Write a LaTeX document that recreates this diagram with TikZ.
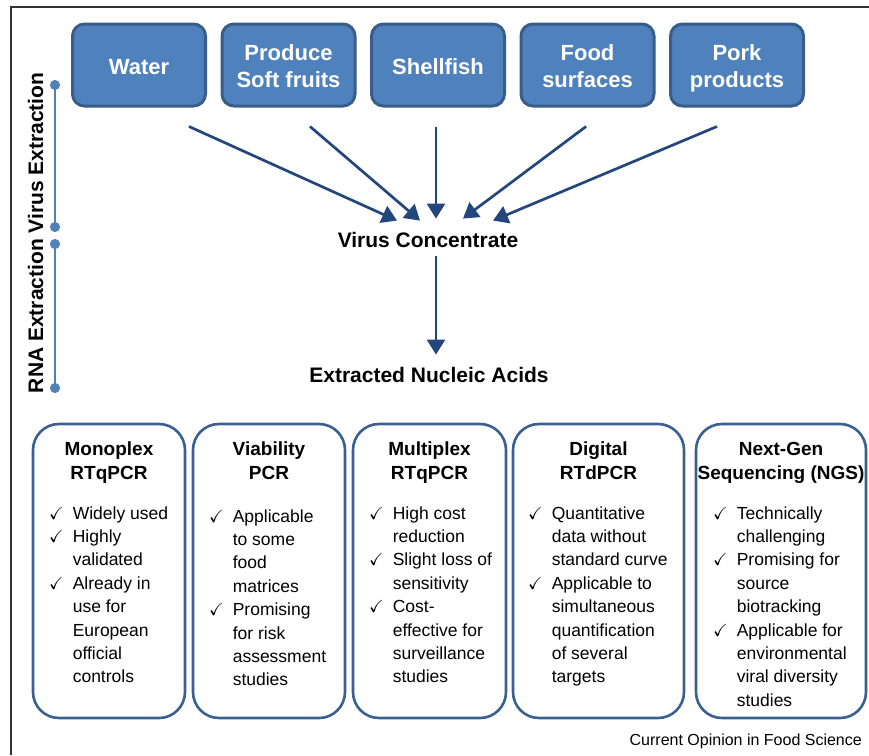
\documentclass[tikz,border=0pt]{standalone}
\usepackage{fontspec}
\usepackage{amssymb}
\setmainfont{Liberation Sans}
\usetikzlibrary{arrows.meta,positioning,calc}
\definecolor{srcblue}{RGB}{79,129,189}
\definecolor{srcedge}{RGB}{56,93,138}
\definecolor{flowblue}{RGB}{35,70,125}
\definecolor{methodedge}{RGB}{58,95,145}

\newcommand{\srctext}[1]{\rule{0pt}{23.5pt}#1\rule[-4.6pt]{0pt}{4.6pt}}
\tikzset{
  source/.style={draw=srcedge, line width=3pt, fill=srcblue, rounded corners=12pt,
    minimum width=133pt, minimum height=82pt, text=white, align=center,
    font=\fontsize{22}{27}\selectfont\bfseries},
  flow/.style={-{Triangle[length=15pt,width=18pt]}, line width=2.7pt, draw=flowblue},
  stagebar/.style={{Circle[length=10pt]}-{Circle[length=10pt]}, line width=2pt, draw=srcblue},
  stagelabel/.style={rotate=90, anchor=base, inner sep=0pt, font=\fontsize{21}{21}\selectfont\bfseries},
  stagetext/.style={anchor=base, inner sep=0pt, font=\fontsize{21}{21}\selectfont\bfseries},
  method/.style={draw=methodedge, line width=2.6pt, rounded corners=26pt,
    minimum height=294pt, outer sep=0pt},
  methodhead/.style={anchor=base, inner sep=0pt, font=\fontsize{19}{24}\selectfont\bfseries},
  methodbody/.style={anchor=base west, inner sep=0pt, font=\fontsize{17.5}{23.4}\selectfont}
}
\newcommand{\tick}{\checkmark}

\begin{document}
\begin{tikzpicture}[x=1pt, y=-1pt]
    \useasboundingbox (0,0) rectangle (869,755);

    % Frame
    \draw[line width=1.5pt, black!80] (11,755) -- (11,7) -- (869,7);

    % Sources
    \node[source] (water) at (139,65) {\srctext{Water}};
    \node[source] (produce) at (288.5,65) {\srctext{Produce\\Soft fruits}};
    \node[source] (shellfish) at (438,65) {\srctext{Shellfish}};
    \node[source] (surfaces) at (587.5,65) {\srctext{Food\\surfaces}};
    \node[source] (pork) at (737,65) {\srctext{Pork\\products}};

    % Stages
    \draw[stagebar] (55,80) -- (55,232);
    \draw[stagebar] (55,239) -- (55,393);
    \node[stagelabel] (virusext) at (43,153) {Virus Extraction};
    \node[stagelabel] (rnaext) at (43,316) {RNA Extraction};

    % Concentrate and nucleic acids
    \node[stagetext] (conc) at (428,247) {Virus Concentrate};
    \node[stagetext] (acids) at (429,382) {Extracted Nucleic Acids};

    % Arrows to the concentrate
    \coordinate (s1) at ($(water.south)+(50,19)$);
    \coordinate (s2) at ($(produce.south)+(21.5,19)$);
    \coordinate (s3) at ($(shellfish.south)+(-2,19)$);
    \coordinate (s4) at ($(surfaces.south)+(-1.5,19)$);
    \coordinate (s5) at ($(pork.south)+(-20,19)$);
    \draw[flow] (s1) -- ($(conc.north)+(-31,-11)$);
    \draw[flow] (s2) -- ($(conc.north)+(-8,-11)$);
    \draw[flow] (s3) -- ($(conc.north)+(8,-13)$);
    \draw[flow] (s4) -- ($(conc.north)+(35,-13)$);
    \draw[flow] (s5) -- ($(conc.north)+(65,-11)$);

    % Arrow to the nucleic acids
    \coordinate (c1) at ($(conc.south)+(8,9)$);
    \draw[flow] (c1) -- ($(acids.north)+(7,-12)$);

    % Methods
    \node[method, minimum width=152pt] (mono) at (109,571) {};
    \node[method, minimum width=152pt] (viab) at (269,571) {};
    \node[method, minimum width=153pt] (multi) at (429.5,571) {};
    \node[method, minimum width=171pt] (digital) at (598.5,571) {};
    \node[method, minimum width=170pt] (ngs) at (781,571) {};

    \node[methodhead] (monohead) at ($(mono.north)+(0,31)$)
      {\begin{tabular}[t]{@{}c@{}}Monoplex\\RTqPCR\end{tabular}};
    \node[methodhead] (viabhead) at ($(viab.north)+(0,31)$)
      {\begin{tabular}[t]{@{}c@{}}Viability\\PCR\end{tabular}};
    \node[methodhead] (multihead) at ($(multi.north)+(0,31)$)
      {\begin{tabular}[t]{@{}c@{}}Multiplex\\RTqPCR\end{tabular}};
    \node[methodhead] (digitalhead) at ($(digital.north)+(0,31)$)
      {\begin{tabular}[t]{@{}c@{}}Digital\\RTdPCR\end{tabular}};
    \node[methodhead] (ngshead) at ($(ngs.north)+(0,31)$)
      {\begin{tabular}[t]{@{}c@{}}Next-Gen\\Sequencing (NGS)\end{tabular}};

    \node[methodbody] (monobody) at ($(mono.north west)+(16,95)$)
      {\begin{tabular}[t]{@{}l@{\hspace{9pt}}l@{}}
        \tick & Widely used\\
        \tick & Highly\\
              & validated\\
        \tick & Already in\\
              & use for\\
              & European\\
              & official\\
              & controls
      \end{tabular}};
    \node[methodbody] (viabbody) at ($(viab.north west)+(16,98)$)
      {\begin{tabular}[t]{@{}l@{\hspace{9pt}}l@{}}
        \tick & Applicable\\
              & to some\\
              & food\\
              & matrices\\
        \tick & Promising\\
              & for risk\\
              & assessment\\
              & studies
      \end{tabular}};
    \node[methodbody] (multibody) at ($(multi.north west)+(16,95)$)
      {\begin{tabular}[t]{@{}l@{\hspace{9pt}}l@{}}
        \tick & High cost\\
              & reduction\\
        \tick & Slight loss of\\
              & sensitivity\\
        \tick & Cost-\\
              & effective for\\
              & surveillance\\
              & studies
      \end{tabular}};
    \node[methodbody] (digitalbody) at ($(digital.north west)+(15,95)$)
      {\begin{tabular}[t]{@{}l@{\hspace{9pt}}l@{}}
        \tick & Quantitative\\
              & data without\\
              & standard curve\\
        \tick & Applicable to\\
              & simultaneous\\
              & quantification\\
              & of several\\
              & targets
      \end{tabular}};
    \node[methodbody] (ngsbody) at ($(ngs.north west)+(17,95)$)
      {\begin{tabular}[t]{@{}l@{\hspace{9pt}}l@{}}
        \tick & Technically\\
              & challenging\\
        \tick & Promising for\\
              & source\\
              & biotracking\\
        \tick & Applicable for\\
              & environmental\\
              & viral diversity\\
              & studies
      \end{tabular}};

    % Source line
    \node[anchor=base east, inner sep=0pt, font=\fontsize{16}{16}\selectfont] (credit) at (862,745)
      {Current Opinion in Food Science};
\end{tikzpicture}
\end{document}
